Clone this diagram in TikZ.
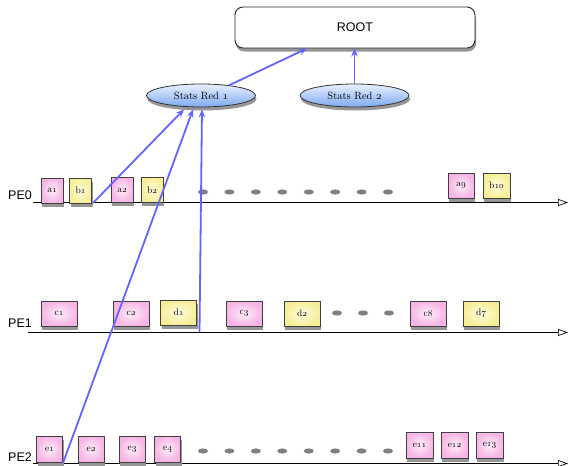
\documentclass[tikz,border=0pt]{standalone}
\usepackage{fontspec}
\newfontfamily\helv{Liberation Sans}
\usetikzlibrary{shapes.geometric,shadows,arrows.meta}
\definecolor{pinkE}{RGB}{246,180,228}
\definecolor{pinkC}{RGB}{255,238,250}
\definecolor{yelE}{RGB}{246,238,150}
\definecolor{yelC}{RGB}{255,253,225}
\definecolor{ellT}{RGB}{232,240,255}
\definecolor{ellB}{RGB}{125,170,240}
\definecolor{bluL}{RGB}{100,100,255}
\definecolor{dotC}{RGB}{128,128,128}
\definecolor{shd}{RGB}{150,150,150}
\newcommand\osn[1]{{\usefont{OML}{cmm}{m}{it}#1}}
\begin{document}
\begin{tikzpicture}[x=1pt,y=-1pt,
  myshadow/.style={general shadow={fill=shd, shadow xshift=1pt, shadow yshift=-3.5pt}},
  box/.style={draw=black!75, line width=0.9pt, inner sep=0pt,
    font=\fontsize{9.5}{11}\selectfont, myshadow},
  pbox/.style={box, inner color=pinkC, outer color=pinkE},
  ybox/.style={box, inner color=yelC, outer color=yelE},
  sq/.style={minimum width=22pt, minimum height=25pt},
  mq/.style={minimum width=26pt, minimum height=26pt},
  wq/.style={minimum width=36pt, minimum height=25pt},
  peline/.style={line width=0.7pt, -{Triangle[open,length=10pt,width=7pt]}},
  pelabel/.style={font=\helv\fontsize{12.5}{14}\selectfont, inner sep=0pt},
  redell/.style={ellipse, draw=black!80, line width=0.8pt, minimum width=109pt,
    minimum height=23pt, inner sep=0pt, top color=ellT, bottom color=ellB,
    font=\fontsize{10.5}{12}\selectfont, myshadow},
  bl/.style={draw=bluL, line width=1.8pt, -{Stealth[length=8pt,width=6.5pt]}},
  dotf/.style={fill=dotC}
]
\useasboundingbox (0,0) rectangle (571,466);

% PE lines
\coordinate (p0s) at (33,202.5);  \coordinate (p0e) at (568,202.5);
\coordinate (p1s) at (28,332.5);  \coordinate (p1e) at (568,332.5);
\coordinate (p2s) at (33,463.5);  \coordinate (p2e) at (568,463.5);
\draw[peline] (p0s) -- (p0e);
\draw[peline] (p1s) -- (p1e);
\draw[peline] (p2s) -- (p2e);

\node[pelabel] (l0) at (20,195) {PE0};
\node[pelabel] (l1) at (20,323) {PE1};
\node[pelabel] (l2) at (20,457) {PE2};

% dots
\foreach \i in {0,...,7} \fill[dotf] ({203+26.43*\i},192) ellipse (5pt and 2.6pt);
\foreach \x in {337,363,389} \fill[dotf] (\x,313) ellipse (5pt and 2.6pt);
\foreach \i in {0,...,7} \fill[dotf] ({203+26.43*\i},451) ellipse (5pt and 2.6pt);

% ROOT and reducers
\node[draw=black!85, line width=0.9pt, rounded corners=8pt, minimum width=240pt,
  minimum height=41pt, fill=white, font=\helv\fontsize{12.5}{14}\selectfont,
  myshadow] (root) at (355,27.5) {ROOT};
\node[redell] (sr1) at (201,95.5) {Stats Red \osn{1}};
\node[redell] (sr2) at (354.5,95.5) {Stats Red \osn{2}};

% PE0 boxes
\node[pbox,sq] (a1) at (52,190.5) {a\osn{1}};
\node[ybox,sq] (b1) at (80.5,190.5) {b\osn{1}};
\node[pbox,sq] (a2) at (122,190) {a\osn{2}};
\node[ybox,sq] (b2) at (152,190) {b\osn{2}};
\node[pbox,mq,minimum height=25pt] (a9) at (461,185.5) {a\osn{9}};
\node[ybox,mq,minimum height=25pt,minimum width=27pt] (b10) at (496.5,185.5) {b\osn{10}};

% PE1 boxes
\node[pbox,wq] (c1) at (59,313.5) {c\osn{1}};
\node[pbox,wq] (c2) at (131,313.5) {c\osn{2}};
\node[ybox,wq] (d1) at (178.5,312.5) {d\osn{1}};
\node[pbox,wq] (c3) at (244,313.5) {c\osn{3}};
\node[ybox,wq] (d2) at (302,313.5) {d\osn{2}};
\node[pbox,wq] (c8) at (428,313.5) {c\osn{8}};
\node[ybox,wq] (d7) at (481,313.5) {d\osn{7}};

% PE2 boxes
\node[pbox,mq] (e1) at (49.5,449) {e\osn{1}};
\node[pbox,mq] (e2) at (91,449) {e\osn{2}};
\node[pbox,mq] (e3) at (132,449) {e\osn{3}};
\node[pbox,mq] (e4) at (167.5,449) {e\osn{4}};
\node[pbox,mq,minimum width=27pt] (e11) at (419.5,445) {e\osn{11}};
\node[pbox,mq,minimum width=27pt] (e12) at (454.5,445) {e\osn{12}};
\node[pbox,mq,minimum width=27pt] (e13) at (489.5,445) {e\osn{13}};

% connectors
\coordinate (s1) at (93,203);
\coordinate (s2) at (63,463);
\coordinate (s3) at (199.5,332);
\draw[bl] (s1) -- ([xshift=-17pt,yshift=-2pt]sr1.south);
\draw[bl] (s2) -- ([xshift=-8pt,yshift=-2pt]sr1.south);
\draw[bl] (s3) -- ([xshift=1pt,yshift=-2pt]sr1.south);
\draw[bl] (sr1.20) -- ([xshift=-48pt]root.south);
\draw[bl] (sr2.north) -- (sr2.north |- root.south);
\end{tikzpicture}
\end{document}
